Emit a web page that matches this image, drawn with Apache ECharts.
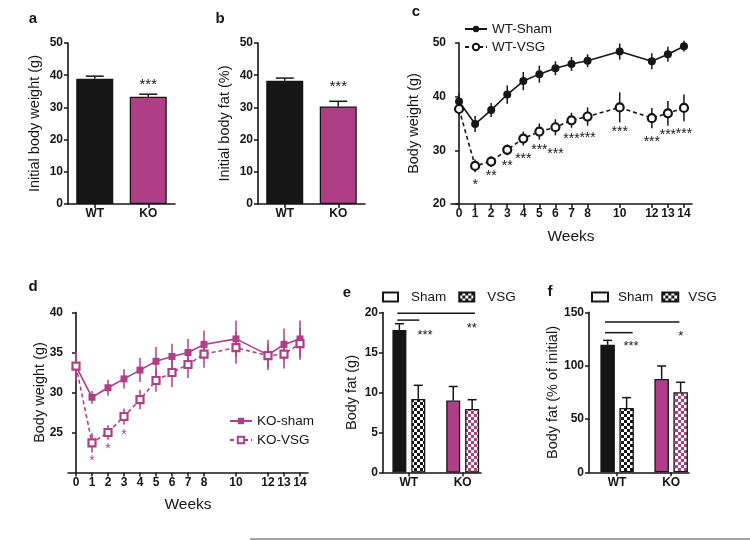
<!DOCTYPE html>
<html><head><meta charset="utf-8">
<script src="https://cdn.jsdelivr.net/npm/echarts@6/dist/echarts.min.js"></script>
<style>html,body{margin:0;padding:0;background:#fff}#c{width:750px;height:540px}</style>
</head><body><div id="c"></div><script>
// ---------- data ----------
const aCats = ['WT', 'KO'];
const aVals = [38.9, 33.3];
const aErr = [0.8, 0.8];
const aStarY = 38.0;
const bVals = [38.3, 30.3];
const bErr = [0.8, 1.6];
const bStarY = 37.3;

const weeks = [0, 1, 2, 3, 4, 5, 6, 7, 8, 10, 12, 13, 14];
const wtSham = [39.1, 34.9, 37.5, 40.4, 42.9, 44.2, 45.3, 46.1, 46.7, 48.4, 46.6, 47.9, 49.4];
const wtShamErr = [1.5, 1.5, 1.3, 1.7, 1.7, 1.6, 1.3, 1.3, 1.2, 1.5, 1.5, 1.4, 1.0];
const wtVsg = [37.7, 27.1, 27.9, 30.1, 32.2, 33.5, 34.3, 35.6, 36.3, 38.0, 36.0, 36.9, 37.9];
const wtVsgErr = [1.2, 1.2, 1.0, 1.0, 1.3, 1.5, 1.5, 1.4, 1.7, 2.8, 1.9, 2.3, 2.5];
const cStarWeeks = [1, 2, 3, 4, 5, 6, 7, 8, 10, 12, 13, 14];
const cStarY = [24.16, 25.72, 27.58, 28.94, 30.68, 29.88, 32.67, 32.86, 33.92, 32.06, 33.47, 33.66];
const cStarText = ['*', '**', '**', '***', '***', '***', '***', '***', '***', '***', '***', '***'];

const koSham = [33.3, 29.4, 30.6, 31.7, 32.8, 33.9, 34.5, 35.0, 36.0, 36.7, 34.7, 36.0, 36.7];
const koShamErr = [1.8, 0.8, 1.0, 1.2, 1.5, 1.8, 1.6, 1.7, 1.75, 2.3, 1.9, 2.0, 2.3];
const koVsg = [33.3, 23.7, 25.0, 27.0, 29.1, 31.5, 32.5, 33.5, 34.8, 35.6, 34.6, 34.8, 36.1];
const koVsgErr = [1.5, 1.2, 0.9, 1.0, 1.2, 1.4, 1.8, 1.7, 1.7, 2.0, 1.5, 1.8, 2.0];
const dStarWeeks = [1, 2, 3];
const dStarY = [21.8, 23.25, 25.1];
const dStarText = ['*', '*', '*'];

const groups = ['WT', 'KO'];
const groupPos = [1, 2];
const eSham = [17.8, 9.0];
const eShamErr = [0.8, 1.75];
const eVsg = [9.2, 7.95];
const eVsgErr = [1.7, 1.15];
const eSig = [[0.786, 2.228, 19.9], [0.786, 1.194, 19.05]];
const eStarX = [1.30, 2.167];
const eStarY = [17.55, 18.4];
const eStarText = ['***', '**'];

const fSham = [119.5, 87.5];
const fShamErr = [4.2, 12.2];
const fVsg = [60.3, 75.0];
const fVsgErr = [9.7, 9.4];
const fSig = [[0.776, 2.151, 140.9], [0.776, 1.288, 130.9]];
const fStarX = [1.257, 2.177];
const fStarY = [120.3, 130.3];
const fStarText = ['***', '*'];

// ---------- styling ----------
const FONT = 'Liberation Sans, Arial, Helvetica, sans-serif';
const INK = '#161616';
const MAG = '#ae3f87';

function checker(c1, c2, s) {
  const cv = document.createElement('canvas');
  cv.width = 2 * s; cv.height = 2 * s;
  const g = cv.getContext('2d');
  g.fillStyle = c2; g.fillRect(0, 0, 2 * s, 2 * s);
  g.fillStyle = c1; g.fillRect(0, 0, s, s); g.fillRect(s, s, s, s);
  return { image: cv, repeat: 'repeat' };
}
const chkBlack = checker(INK, '#ffffff', 3);
const chkMag = checker(MAG, '#ffffff', 3);

function errRender(o) {
  return function (params, api) {
    const x = api.value(0), y = api.value(1), e = api.value(2);
    const top = api.coord([x, y + e]);
    const bot = api.coord([x, o.upper ? y : y - e]);
    const cx = top[0] + (o.dx || 0);
    const st = { stroke: o.color, lineWidth: o.lw || 1.5 };
    const ch = [{ type: 'line', shape: { x1: cx, y1: bot[1], x2: cx, y2: top[1] }, style: st }];
    if (o.capW) ch.push({ type: 'line', shape: { x1: cx - o.capW / 2, y1: top[1], x2: cx + o.capW / 2, y2: top[1] }, style: st });
    return { type: 'group', children: ch };
  };
}
function textRender(texts, color, fs) {
  return function (params, api) {
    const p = api.coord([api.value(0), api.value(1)]);
    return { type: 'text', x: p[0], y: p[1] + fs * 0.22,
      style: { text: texts[params.dataIndex], align: 'center', verticalAlign: 'middle', textAlign: 'center', textVerticalAlign: 'middle',
        fill: color, fontSize: fs, fontFamily: FONT } };
  };
}
function sigRender(params, api) {
  const a = api.coord([api.value(0), api.value(2)]);
  const b = api.coord([api.value(1), api.value(2)]);
  return { type: 'line', shape: { x1: a[0], y1: a[1], x2: b[0], y2: a[1] }, style: { stroke: INK, lineWidth: 1.5 } };
}

const axLine = { show: true, lineStyle: { color: INK, width: 1.6 } };
const axTick = { show: true, length: 4, lineStyle: { color: INK, width: 1.5 } };
const lbl = { color: INK, fontFamily: FONT, fontWeight: 'bold', fontSize: 12 };

function catX(idx) {
  return { type: 'category', gridIndex: idx, data: aCats, axisLine: axLine,
    axisTick: Object.assign({ alignWithLabel: true }, axTick), axisLabel: Object.assign({ margin: 4 }, lbl) };
}
function weekX(idx) {
  return { type: 'value', gridIndex: idx, min: -0.5, max: 14.5, splitLine: { show: false }, axisLine: axLine,
    axisTick: Object.assign({ customValues: weeks }, axTick),
    axisLabel: Object.assign({ customValues: weeks, margin: 4 }, lbl) };
}
function groupX(idx, mn, mx) {
  return { type: 'value', gridIndex: idx, min: mn, max: mx, splitLine: { show: false }, axisLine: axLine,
    axisTick: Object.assign({ customValues: groupPos }, axTick),
    axisLabel: Object.assign({ customValues: groupPos, margin: 4, formatter: v => groups[groupPos.indexOf(v)] }, lbl) };
}
function valY(idx, mn, mx, iv, custom) {
  const t = Object.assign({}, axTick), l = Object.assign({ margin: 5 }, lbl);
  if (custom) { t.customValues = custom; l.customValues = custom; }
  return { type: 'value', gridIndex: idx, min: mn, max: mx, interval: iv, splitLine: { show: false },
    axisLine: axLine, axisTick: t, axisLabel: l };
}

const barBorder = { borderColor: INK, borderWidth: 1.3 };
const series = [];

// panel a / b
[[aVals, aErr, aStarY, 0], [bVals, bErr, bStarY, 1]].forEach(([vals, errs, sy, k]) => {
  series.push({ type: 'bar', xAxisIndex: k, yAxisIndex: k, barWidth: 37, itemStyle: barBorder,
    data: vals.map((v, i) => ({ value: v, itemStyle: { color: i === 0 ? INK : MAG } })) });
  series.push({ type: 'custom', xAxisIndex: k, yAxisIndex: k, z: 5, encode: { x: 0, y: 1 },
    renderItem: errRender({ color: INK, upper: true, capW: 18 }), data: vals.map((v, i) => [i, v, errs[i]]) });
  series.push({ type: 'custom', xAxisIndex: k, yAxisIndex: k, z: 6, encode: { x: 0, y: 1 },
    renderItem: textRender(['***'], INK, 15), data: [[1, sy]] });
});

// panel c
series.push({ type: 'custom', xAxisIndex: 2, yAxisIndex: 2, z: 2, encode: { x: 0, y: 1 },
  renderItem: errRender({ color: INK }), data: weeks.map((w, i) => [w, wtSham[i], wtShamErr[i]]) });
series.push({ type: 'custom', xAxisIndex: 2, yAxisIndex: 2, z: 2, encode: { x: 0, y: 1 },
  renderItem: errRender({ color: INK }), data: weeks.map((w, i) => [w, wtVsg[i], wtVsgErr[i]]) });
series.push({ name: 'WT-Sham', type: 'line', xAxisIndex: 2, yAxisIndex: 2, z: 4, symbol: 'circle', symbolSize: 8,
  itemStyle: { color: INK }, lineStyle: { color: INK, width: 1.6 },
  data: weeks.map((w, i) => [w, wtSham[i]]) });
series.push({ name: 'WT-VSG', type: 'line', xAxisIndex: 2, yAxisIndex: 2, z: 4, symbol: 'circle', symbolSize: 8,
  itemStyle: { color: '#fff', borderColor: INK, borderWidth: 2.2 }, lineStyle: { color: INK, width: 1.6, type: [4, 3] },
  data: weeks.map((w, i) => [w, wtVsg[i]]) });
series.push({ type: 'custom', xAxisIndex: 2, yAxisIndex: 2, z: 6, encode: { x: 0, y: 1 },
  renderItem: textRender(cStarText, INK, 14), data: cStarWeeks.map((w, i) => [w, cStarY[i]]) });

// panel d
series.push({ type: 'custom', xAxisIndex: 3, yAxisIndex: 3, z: 2, encode: { x: 0, y: 1 },
  renderItem: errRender({ color: MAG }), data: weeks.map((w, i) => [w, koSham[i], koShamErr[i]]) });
series.push({ type: 'custom', xAxisIndex: 3, yAxisIndex: 3, z: 2, encode: { x: 0, y: 1 },
  renderItem: errRender({ color: MAG }), data: weeks.map((w, i) => [w, koVsg[i], koVsgErr[i]]) });
series.push({ name: 'KO-sham', type: 'line', xAxisIndex: 3, yAxisIndex: 3, z: 4, symbol: 'rect', symbolSize: 7,
  itemStyle: { color: MAG }, lineStyle: { color: MAG, width: 1.6 },
  data: weeks.map((w, i) => [w, koSham[i]]) });
series.push({ name: 'KO-VSG', type: 'line', xAxisIndex: 3, yAxisIndex: 3, z: 4, symbol: 'rect', symbolSize: 7,
  itemStyle: { color: '#fff', borderColor: MAG, borderWidth: 2.2 }, lineStyle: { color: MAG, width: 1.6, type: [4, 3] },
  data: weeks.map((w, i) => [w, koVsg[i]]) });
series.push({ type: 'custom', xAxisIndex: 3, yAxisIndex: 3, z: 6, encode: { x: 0, y: 1 },
  renderItem: textRender(dStarText, MAG, 14), data: dStarWeeks.map((w, i) => [w, dStarY[i]]) });

// panels e / f
[[eSham, eShamErr, eVsg, eVsgErr, eSig, eStarX, eStarY, eStarText, 4, 14, 0.35],
 [fSham, fShamErr, fVsg, fVsgErr, fSig, fStarX, fStarY, fStarText, 5, 14.5, 0.31]].forEach(
  ([sh, shE, vs, vsE, sig, sx, sy, st, k, bw, gap]) => {
    const dx = (bw + bw * gap) / 2;
    series.push({ name: 'Sham', type: 'bar', xAxisIndex: k, yAxisIndex: k, barWidth: bw, barGap: (gap * 100) + '%',
      itemStyle: Object.assign({ color: '#fff' }, barBorder),
      data: sh.map((v, i) => ({ value: [groupPos[i], v], itemStyle: { color: i === 0 ? INK : MAG } })) });
    series.push({ name: 'VSG', type: 'bar', xAxisIndex: k, yAxisIndex: k, barWidth: bw, barGap: (gap * 100) + '%',
      itemStyle: Object.assign({ color: chkBlack }, barBorder),
      data: vs.map((v, i) => ({ value: [groupPos[i], v], itemStyle: { color: i === 0 ? chkBlack : chkMag } })) });
    series.push({ type: 'custom', xAxisIndex: k, yAxisIndex: k, z: 5, encode: { x: 0, y: 1 },
      renderItem: errRender({ color: INK, upper: true, capW: 9, dx: -dx }), data: sh.map((v, i) => [groupPos[i], v, shE[i]]) });
    series.push({ type: 'custom', xAxisIndex: k, yAxisIndex: k, z: 5, encode: { x: 0, y: 1 },
      renderItem: errRender({ color: INK, upper: true, capW: 9, dx: dx }), data: vs.map((v, i) => [groupPos[i], v, vsE[i]]) });
    series.push({ type: 'custom', xAxisIndex: k, yAxisIndex: k, z: 5, encode: { x: [0, 1], y: 2 },
      renderItem: sigRender, data: sig });
    series.push({ type: 'custom', xAxisIndex: k, yAxisIndex: k, z: 6, encode: { x: 0, y: 1 },
      renderItem: textRender(st, INK, 13), data: sx.map((x, i) => [x, sy[i]]) });
  });

const legTxt = { fontFamily: FONT, fontSize: 13.5, color: INK };
const titleStyle = (t, fs, bold) => ({ text: t, fill: INK, fontSize: fs, fontFamily: FONT, fontWeight: bold ? 'bold' : 'normal',
  textAlign: 'center', textVerticalAlign: 'middle', align: 'center', verticalAlign: 'middle' });
const vText = (x, y, t) => ({ type: 'text', x: x, y: y, rotation: Math.PI / 2, style: titleStyle(t, 14.5) });
const hText = (x, y, t, fs, bold) => ({ type: 'text', x: x, y: y, style: titleStyle(t, fs, bold) });

const option = {
  animation: false,
  backgroundColor: '#fff',
  grid: [
    { left: 68, top: 43, width: 107, height: 161 },
    { left: 258, top: 43, width: 107, height: 161 },
    { left: 451, top: 43, width: 241, height: 161 },
    { left: 68, top: 312.5, width: 240, height: 160 },
    { left: 383, top: 312.5, width: 98, height: 160 },
    { left: 589, top: 312.3, width: 100, height: 160 }
  ],
  xAxis: [catX(0), catX(1), weekX(2), weekX(3), groupX(4, 0.52, 2.34), groupX(5, 0.48, 2.33)],
  yAxis: [valY(0, 0, 50, 10), valY(1, 0, 50, 10), valY(2, 20, 50, 10), valY(3, 20, 40, 5, [25, 30, 35, 40]),
    valY(4, 0, 20, 5), valY(5, 0, 150, 50)],
  legend: [
    { data: ['WT-Sham', 'WT-VSG'], orient: 'vertical', left: 459, top: 17, itemWidth: 22, itemHeight: 8, itemGap: 4, textStyle: legTxt },
    { data: ['KO-sham', 'KO-VSG'], orient: 'vertical', left: 224, top: 409, itemWidth: 22, itemHeight: 8, itemGap: 5, textStyle: legTxt },
    { data: ['Sham', 'VSG'], icon: 'rect', left: 377, top: 285, itemWidth: 15, itemHeight: 9, itemGap: 12, textStyle: Object.assign({ padding: [0, 0, 0, 8] }, legTxt) },
    { data: ['Sham', 'VSG'], icon: 'rect', left: 586, top: 285, itemWidth: 16, itemHeight: 9, itemGap: 8, textStyle: Object.assign({ padding: [0, 0, 0, 5] }, legTxt) }
  ],
  graphic: [
    hText(33, 19, 'a', 15, true), hText(220, 19, 'b', 15, true), hText(416, 12, 'c', 15, true),
    hText(33, 287, 'd', 15, true), hText(347, 293, 'e', 15, true), hText(550, 292, 'f', 15, true),
    vText(35, 123.5, 'Initial body weight (g)'), vText(225, 123.5, 'Initial body fat (%)'),
    vText(414, 123.5, 'Body weight (g)'), vText(39.5, 392.5, 'Body weight (g)'),
    vText(352, 392.5, 'Body fat (g)'), vText(553, 392.5, 'Body fat (% of initial)'),
    hText(571, 237, 'Weeks', 15.5), hText(188, 505, 'Weeks', 15.5),
    { type: 'line', shape: { x1: 250, y1: 539, x2: 750, y2: 539 }, style: { stroke: '#888', lineWidth: 1.5 } }
  ],
  series: series
};
const chart = echarts.init(document.getElementById('c'), null, { renderer: 'canvas' });
chart.setOption(option);
</script></body></html>
